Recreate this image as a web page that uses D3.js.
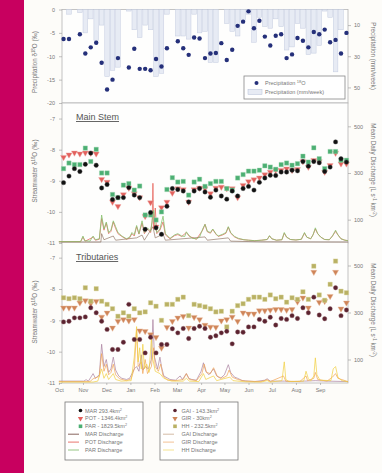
<!DOCTYPE html>
<html>
<head>
<meta charset="utf-8">
<script src="https://cdn.jsdelivr.net/npm/d3@7"></script>
<style>
  body { margin: 0; background: #fdfcf9; }
  svg { display: block; font-family: "Liberation Sans", Arial, sans-serif; }
  .tick text { fill: #777; font-size: 5.5px; }
  .tick line { stroke: #999; stroke-width: 0.6; }
  .domain { display: none; }
</style>
</head>
<body>
<svg id="chart" width="382" height="473"></svg>
<script>
// ---- data (weekly samples, first one ~7 Oct 2011) ----
const monthLabels = ["Oct", "Nov", "Dec", "Jan", "Feb", "Mar", "Apr", "May", "Jun", "Jul", "Aug", "Sep"];

const precipD18O = [-6.3, -6.3, null, -5.3, -9.4, -8.1, -7.1, -11.4, -17.1, -15.0, -10.4, null, -12.4, -8.4,
  -12.7, -12.7, -13.0, -10.6, -12.2, -8.3, null, -6.8, -8.3, -9.7, -6.0, -6.2, -10.4, -9.4, -9.3, -7.2,
  -10.8, -8.6, -3.5, -2.6, -0.4, -4.0, -2.4, -5.8, -7.7, -5.6, -5.3, -10.4, -9.6, -6.1, -6.7, -8.1,
  -4.8, -5.3, -4.3, -7.0, -6.5, -9.4, -5.0];
const precipMm = [0, 3, 0, 2, 15, 6, 20, 10, 43, 39, 37, 0, 1, 13, 18, 10, 13, 43, 41, 3, 0, 17, 17, 19, 3,
  15, 14, 34, 34, 0, 9, 14, 17, 7, 3, 21, 5, 11, 12, 6, 11, 26, 24, 9, 12, 29, 28, 23, 1, 5, 40, 13, 0];

const marD18O = [-9.06, -8.85, -8.61, -8.70, -8.47, -8.11, -8.50, -9.23, -9.12, -9.60, -9.54, -9.54, -9.22,
  -9.46, -9.54, -10.56, -10.02, -10.51, -10.72, -9.82, -9.25, -9.28, -9.33, -9.68, -9.33, -9.25, -9.36,
  -9.53, -9.30, -9.49, -9.59, -9.33, -9.49, -9.25, -9.18, -9.30, -9.05, -8.91, -8.82, -8.83, -8.72,
  -8.72, -8.66, -8.68, -8.38, -8.53, -8.38, -8.42, -8.70, -8.56, -7.75, -8.29, -8.40];
const potD18O = [-8.24, -8.16, -8.10, -8.13, -8.10, -8.11, -8.13, -8.95, -9.04, -9.68, -9.82, -9.44, -9.23,
  -9.41, -9.54, -10.14, -9.70, -10.48, -9.86, -9.68, -9.39, -9.25, -9.28, -9.68, -9.28, -9.23, -9.25,
  -9.41, -9.23, -9.20, -9.25, -9.25, -9.54, -9.14, -9.02, -8.96, -8.90, -8.80, -8.72, -8.66, -8.66,
  -8.61, -8.66, -8.63, -8.38, -8.56, -8.34, -8.38, -8.72, -8.50, -8.11, -8.45, -8.45];
const parD18O = [-8.61, -8.43, -8.48, -8.48, -7.95, -8.38, -7.99, -8.75, -8.75, -9.44, -9.54, -9.14, -9.09,
  -9.30, -9.17, -10.10, -10.10, -10.26, -10.00, -9.28, -8.90, -9.04, -9.02, -9.46, -9.04, -8.95, -9.18,
  -9.09, -9.02, -9.02, -9.25, -9.30, -8.91, -8.80, -8.69, -8.69, -8.66, -8.52, -8.56, -8.63, -8.48,
  -8.43, -8.50, -8.45, -8.21, -8.40, -7.94, -8.29, -8.61, -8.06, -8.06, -8.34, -8.34];

const gaiD18O = [-9.05, -9.03, -8.92, -8.92, -8.89, -8.60, -8.76, -9.03, -9.29, -9.93, -9.93, -9.70, -8.49,
  -9.61, -9.61, -10.04, -9.54, -10.04, -9.77, -9.77, -9.27, -9.40, -9.26, -9.58, -9.26, -9.19, -9.26,
  -9.54, -9.49, -9.40, -9.35, -9.75, -9.37, -9.38, -9.21, -9.21, -8.97, -9.03, -8.90, -9.15, -8.94,
  -8.97, -8.85, -8.94, -8.60, -8.76, -8.26, -8.83, -8.95, -8.63, -7.96, -8.85, -8.67];
const girD18O = [-8.60, -8.60, -8.60, -8.44, -8.37, -8.46, -8.39, -8.89, -8.76, -9.24, -9.03, -8.97, -9.01,
  -8.97, -9.33, -9.35, -9.45, -9.54, -9.88, -9.22, -9.03, -8.92, -8.87, -9.24, -8.90, -8.97, -9.15,
  -9.21, -9.22, -9.01, -8.97, -8.89, -9.03, -8.76, -8.79, -8.79, -8.69, -8.69, -8.67, -8.65, -8.65,
  -8.67, -8.65, -8.41, -8.28, -8.60, -7.46, -8.42, -8.39, -8.23, -7.46, -8.63, -8.44];
const hhD18O = [-8.28, -8.31, -8.28, -8.31, -7.96, -8.39, -7.99, -8.39, -8.49, -8.63, -8.87, -8.76, -8.87,
  -8.63, -8.76, -8.73, -8.44, -8.55, -9.00, -8.49, -8.49, -8.33, -8.26, -8.85, -8.49, -8.53, -8.57,
  -8.63, -8.73, -8.71, -9.21, -8.71, -8.53, -8.47, -8.33, -8.26, -8.26, -8.33, -8.19, -8.31, -8.26,
  -8.42, -8.28, -8.33, -8.09, -8.33, -7.27, -8.19, -8.36, -7.85, -7.11, -8.07, -8.12];

// mean daily discharge (L s-1 km-2): [days after 1 Oct 2011, value]
const marQ = [[0, 4], [54, 4], [55, 40], [58, 14], [70, 30], [73, 12], [100, 22], [107, 34], [110, 12],
  [121, 70], [124, 22], [134, 38], [137, 12], [188, 26], [191, 12], [218, 22], [221, 8], [260, 5], [372, 4]];
const potQ = [[0, 6], [28, 6], [31, 25], [34, 8], [44, 25], [47, 12], [52, 16], [55, 105], [58, 55],
  [61, 85], [64, 40], [67, 50], [70, 90], [73, 62], [76, 40], [81, 28], [87, 16], [91, 22], [94, 40],
  [97, 30], [100, 70], [103, 38], [107, 85], [110, 40], [114, 60], [118, 45], [120, 90], [121, 256],
  [122, 60], [124, 150], [126, 40], [130, 55], [134, 90], [137, 35], [143, 18], [149, 32], [153, 36],
  [158, 28], [164, 45], [168, 28], [177, 16], [185, 55], [188, 80], [191, 48], [195, 42], [198, 58],
  [202, 38], [205, 28], [211, 35], [215, 42], [218, 68], [221, 42], [226, 26], [231, 18], [238, 14],
  [244, 12], [252, 10], [261, 12], [268, 15], [271, 30], [274, 18], [280, 12], [287, 14], [290, 42],
  [293, 25], [298, 15], [305, 13], [312, 16], [316, 42], [319, 25], [324, 18], [327, 35], [330, 60],
  [333, 40], [337, 25], [342, 15], [348, 14], [352, 30], [356, 50], [359, 35], [363, 18], [368, 12],
  [372, 10]];
const parQ = [[0, 6], [28, 6], [31, 30], [33, 10], [40, 8], [44, 30], [47, 14], [52, 18], [55, 120],
  [58, 60], [61, 90], [64, 45], [67, 55], [70, 95], [73, 70], [76, 45], [81, 30], [87, 18], [91, 25],
  [94, 45], [97, 35], [100, 75], [103, 40], [107, 95], [110, 45], [114, 65], [118, 50], [120, 95],
  [122, 140], [124, 70], [126, 45], [130, 60], [134, 115], [137, 40], [143, 20], [149, 35], [153, 40],
  [158, 30], [162, 28], [164, 48], [168, 30], [172, 20], [177, 18], [181, 25], [185, 60], [188, 80],
  [191, 50], [195, 45], [198, 60], [202, 40], [205, 30], [211, 38], [215, 45], [218, 70], [221, 45],
  [226, 28], [231, 20], [238, 14], [244, 12], [252, 10], [261, 12], [268, 15], [271, 32], [274, 18],
  [280, 12], [287, 14], [290, 45], [293, 25], [298, 15], [305, 13], [312, 16], [316, 45], [319, 25],
  [324, 18], [327, 35], [330, 65], [333, 40], [337, 25], [342, 15], [348, 14], [352, 30], [356, 55],
  [359, 35], [363, 18], [368, 12], [372, 10]];

const gaiQ = [[0, 8], [32, 8], [35, 14], [38, 8], [44, 40], [47, 20], [52, 35], [55, 165], [58, 70],
  [61, 100], [64, 45], [67, 60], [70, 110], [73, 55], [77, 30], [81, 20], [87, 15], [91, 20], [94, 40],
  [97, 60], [100, 70], [103, 50], [106, 120], [108, 55], [111, 70], [115, 60], [119, 100], [121, 270],
  [123, 110], [127, 60], [130, 110], [132, 70], [135, 30], [143, 15], [150, 12], [156, 30], [159, 15],
  [164, 40], [167, 20], [171, 15], [177, 12], [183, 50], [186, 86], [189, 50], [193, 35], [199, 60],
  [203, 30], [208, 20], [213, 35], [218, 78], [221, 45], [226, 25], [230, 20], [236, 10], [244, 8],
  [252, 6], [265, 12], [268, 18], [272, 8], [290, 8], [300, 6], [316, 8], [330, 10], [345, 8], [372, 6]];
const girQ = [[0, 6], [40, 6], [44, 18], [52, 28], [55, 125], [58, 50], [61, 80], [64, 35], [67, 45],
  [70, 80], [73, 35], [78, 18], [87, 10], [93, 18], [97, 60], [100, 225], [102, 70], [106, 90], [108, 40],
  [111, 100], [114, 40], [119, 70], [122, 150], [124, 70], [128, 50], [131, 80], [134, 30], [140, 12],
  [150, 10], [160, 15], [164, 40], [168, 15], [177, 10], [184, 40], [187, 80], [190, 45], [195, 40],
  [199, 65], [204, 28], [210, 20], [216, 30], [219, 55], [223, 25], [230, 15], [240, 8], [260, 6],
  [268, 14], [272, 6], [289, 30], [292, 8], [310, 6], [318, 30], [320, 10], [328, 20], [330, 45],
  [333, 15], [345, 8], [352, 25], [356, 40], [359, 20], [372, 6]];
const hhQ = [[0, 4], [44, 4], [50, 8], [55, 60], [58, 20], [61, 40], [64, 15], [70, 40], [73, 15], [80, 8],
  [93, 10], [97, 110], [100, 240], [102, 90], [104, 150], [106, 60], [108, 165], [110, 60], [113, 80],
  [116, 45], [119, 190], [121, 100], [124, 50], [130, 40], [135, 20], [145, 8], [160, 8], [164, 20],
  [168, 8], [180, 6], [186, 40], [189, 15], [199, 30], [203, 10], [220, 25], [224, 10], [240, 5],
  [260, 4], [268, 10], [272, 4], [287, 10], [290, 90], [292, 15], [296, 6], [315, 8], [318, 50],
  [321, 18], [324, 8], [328, 30], [330, 107], [332, 35], [336, 12], [350, 10], [353, 60], [356, 70],
  [359, 25], [364, 10], [372, 5]];

// ---- layout ----
const svg = d3.select("#chart");
const L = 62, R = 348;
const firstSample = new Date(2011, 9, 7);
const oct1 = new Date(2011, 9, 1);
const sampleDates = d3.range(precipD18O.length).map((i) => d3.timeDay.offset(firstSample, 7 * i));
const toDate = (day) => d3.timeDay.offset(oct1, day);
const plain = (d) => String(d); // hyphen minus, no decimals

const x = d3.scaleTime().domain([new Date(2011, 9, 5), new Date(2012, 9, 7)]).range([L, R]);

svg.append("rect").attr("width", 382).attr("height", 473).attr("fill", "#fdfcf9");
svg.append("rect").attr("width", 24).attr("height", 473).attr("fill", "#c8005f");

const panels = [
  { top: 9.5, bottom: 103 },
  { top: 103, bottom: 243 },
  { top: 242, bottom: 383 },
];
panels.forEach((p) => {
  svg.append("rect")
    .attr("x", L).attr("y", p.top)
    .attr("width", R - L).attr("height", p.bottom - p.top)
    .attr("fill", "#fefefd").attr("stroke", "#b5b5b5").attr("stroke-width", 0.8);
});

// ---- precipitation panel ----
const yPrec = d3.scaleLinear().domain([-20, 0]).range([103, 9.5]);
const yMm = d3.scaleLinear().domain([0, 60]).range([9.5, 103]);

svg.append("g")
  .selectAll("rect")
  .data(precipMm)
  .join("rect")
  .attr("x", (d, i) => x(sampleDates[i]) - 2.3)
  .attr("y", yMm(0))
  .attr("width", 4.6)
  .attr("height", (d) => yMm(d) - yMm(0))
  .attr("fill", "#e7ebf4")
  .attr("stroke", "#c3cbe0")
  .attr("stroke-width", 0.5);

svg.append("g")
  .selectAll("circle")
  .data(precipD18O.map((v, i) => ({ v, date: sampleDates[i] })).filter((d) => d.v !== null))
  .join("circle")
  .attr("cx", (d) => x(d.date))
  .attr("cy", (d) => yPrec(d.v))
  .attr("r", 2.2)
  .attr("fill", "#25307a");

svg.append("g").attr("transform", `translate(${L},0)`)
  .call(d3.axisLeft(yPrec).tickValues([0, -5, -10, -15, -20]).tickFormat(plain).tickSize(3).tickPadding(4));
svg.append("g").attr("transform", `translate(${R},0)`)
  .call(d3.axisRight(yMm).tickValues([10, 30, 50]).tickFormat(plain).tickSize(3).tickPadding(3));

// ---- stream panels ----
const yMain = d3.scaleLinear().domain([-11, -6.5]).range([243, 103]);
const qMain = d3.scaleLinear().domain([0, 600]).range([243, 103]);
const yTrib = d3.scaleLinear().domain([-11, -6.5]).range([383, 242]);
const qTrib = d3.scaleLinear().domain([0, 600]).range([383, 242]);

const drawQ = (data, q, color, opacity) => {
  svg.append("path")
    .datum(data)
    .attr("fill", "none")
    .attr("stroke", color)
    .attr("stroke-width", 0.8)
    .attr("stroke-opacity", opacity)
    .attr("stroke-linejoin", "round")
    .attr("d", d3.line().x((d) => x(toDate(d[0]))).y((d) => q(d[1])));
};

const triangle = d3.symbol().type(d3.symbolTriangle).size(16);
const square = d3.symbol().type(d3.symbolSquare).size(19);
const legendTriangle = d3.symbol().type(d3.symbolTriangle).size(12);
const legendSquare = d3.symbol().type(d3.symbolSquare).size(13);

const drawPoints = (values, y, shape, fill, stroke) => {
  const g = svg.append("g");
  const pts = values.map((v, i) => ({ v, date: sampleDates[i] }));
  if (shape === "circle") {
    g.selectAll("circle").data(pts).join("circle")
      .attr("cx", (d) => x(d.date)).attr("cy", (d) => y(d.v))
      .attr("r", 2.2).attr("fill", fill).attr("stroke", stroke).attr("stroke-width", 0.4);
  } else {
    g.selectAll("path").data(pts).join("path")
      .attr("d", shape === "triangle" ? triangle : square)
      .attr("transform", (d) => `translate(${x(d.date)},${y(d.v)})` + (shape === "triangle" ? " rotate(180)" : ""))
      .attr("fill", fill).attr("stroke", stroke).attr("stroke-width", 0.4);
  }
};

// main stem
drawQ(marQ, qMain, "#8a6b5a", 0.8);
drawQ(potQ, qMain, "#e4534a", 0.85);
drawQ(parQ, qMain, "#88c16e", 1);
drawPoints(potD18O, yMain, "triangle", "#e2615d", "#f1a9a3");
drawPoints(parD18O, yMain, "square", "#4caf73", "#9dd6ae");
drawPoints(marD18O, yMain, "circle", "#111", "#444");

// tributaries
drawQ(gaiQ, qTrib, "#a77d9c", 0.85);
drawQ(girQ, qTrib, "#f0a04e", 0.85);
drawQ(hhQ, qTrib, "#f1d043", 0.9);
drawPoints(girD18O, yTrib, "triangle", "#cf8559", "#e9b99a");
drawPoints(hhD18O, yTrib, "square", "#b9b164", "#dcd7a0");
drawPoints(gaiD18O, yTrib, "circle", "#5b2330", "#8c5a62");

[[yMain, qMain], [yTrib, qTrib]].forEach(([y, q]) => {
  svg.append("g").attr("transform", `translate(${L},0)`)
    .call(d3.axisLeft(y).tickValues([-7, -8, -9, -10, -11]).tickFormat(plain).tickSize(3).tickPadding(4));
  svg.append("g").attr("transform", `translate(${R},0)`)
    .call(d3.axisRight(q).tickValues([100, 300, 500]).tickFormat(plain).tickSize(3).tickPadding(3));
});

svg.append("g").attr("transform", "translate(0,383)")
  .call(d3.axisBottom(x)
    .tickValues(d3.timeMonth.range(oct1, new Date(2012, 9, 1)))
    .tickFormat((d, i) => monthLabels[i])
    .tickSize(2).tickPadding(3));

// ---- titles ----
const label = (text, tx, ty, size, rotate) => {
  const t = svg.append("text")
    .attr("transform", `translate(${tx},${ty}) rotate(${rotate})`)
    .attr("text-anchor", "middle")
    .attr("fill", "#777")
    .style("font-size", size + "px");
  text.forEach(([s, sup]) => t.append("tspan").text(s)
    .attr("baseline-shift", sup ? "super" : null)
    .style("font-size", sup ? size * 0.7 + "px" : null));
};
label([["Precipitation δ"], ["18", true], ["O (‰)"]], 37, 62, 6.3, -90);
label([["Streamwater δ"], ["18", true], ["O (‰)"]], 37, 171, 6.3, -90);
label([["Streamwater δ"], ["18", true], ["O (‰)"]], 37, 312, 6.3, -90);
label([["Precipitation (mm/week)"]], 371, 56, 6.3, 90);
label([["Mean Daily Discharge (L s"], ["-1", true], [" km"], ["-2", true], [")"]], 371, 170, 6.3, 90);
label([["Mean Daily Discharge (L s"], ["-1", true], [" km"], ["-2", true], [")"]], 371, 310, 6.3, 90);

svg.append("text").attr("x", 76).attr("y", 120).text("Main Stem")
  .attr("fill", "#555").style("font-size", "9px").style("text-decoration", "underline");
svg.append("text").attr("x", 76).attr("y", 260).text("Tributaries")
  .attr("fill", "#555").style("font-size", "9px").style("text-decoration", "underline");

// ---- legends ----
const legendTop = svg.append("g");
legendTop.append("rect").attr("x", 244).attr("y", 76).attr("width", 101).attr("height", 23)
  .attr("fill", "#fff").attr("stroke", "#888").attr("stroke-width", 0.8);
legendTop.append("circle").attr("cx", 256.5).attr("cy", 83).attr("r", 2).attr("fill", "#25307a");
legendTop.append("rect").attr("x", 248).attr("y", 89.5).attr("width", 14).attr("height", 5)
  .attr("fill", "#e7ebf4").attr("stroke", "#b5c0d8").attr("stroke-width", 0.5);
const lt1 = legendTop.append("text").attr("x", 265).attr("y", 85).attr("fill", "#777").style("font-size", "5.5px");
lt1.append("tspan").text("Precipitation ");
lt1.append("tspan").text("18").attr("baseline-shift", "super").style("font-size", "4px");
lt1.append("tspan").text("O");
legendTop.append("text").attr("x", 265).attr("y", 94).attr("fill", "#777").style("font-size", "5.5px")
  .text("Precipitation (mm/week)");

const legendMain = [
  ["MAR 293.4km", "circle", "#111", "#6b3f35"],
  ["POT - 1346.4km", "triangle", "#e2615d", "#e4534a"],
  ["PAR - 1829.5km", "square", "#4caf73", "#7cb866"],
];
const legendTrib = [
  ["GAI - 143.3km", "circle", "#5b2330", "#c9a98e"],
  ["GIR - 30km", "triangle", "#cf8559", "#f0b27a"],
  ["HH - 232.5km", "square", "#b9b164", "#f3dc74"],
];
const names = [["MAR", "POT", "PAR"], ["GAI", "GIR", "HH"]];

[[legendMain, 65, 80.5, 85], [legendTrib, 160, 175, 181.5]].forEach(([items, bx, mx, tx], k) => {
  const g = svg.append("g");
  g.append("rect").attr("x", bx).attr("y", 402).attr("width", 78).attr("height", 58)
    .attr("fill", "#fff").attr("stroke", "#777").attr("stroke-width", 0.8);
  items.forEach(([txt, shape, fill], i) => {
    const cy = 410.5 + i * 7.9;
    if (shape === "circle") g.append("circle").attr("cx", mx).attr("cy", cy).attr("r", 1.8).attr("fill", fill);
    else g.append("path").attr("d", shape === "triangle" ? legendTriangle() : legendSquare())
      .attr("transform", `translate(${mx},${cy})` + (shape === "triangle" ? " rotate(180)" : ""))
      .attr("fill", fill);
    const t = g.append("text").attr("x", tx).attr("y", cy + 2).attr("fill", "#777").style("font-size", "5.5px");
    t.append("tspan").text(txt);
    t.append("tspan").text("2").attr("baseline-shift", "super").style("font-size", "3.8px");
  });
  items.forEach(([, , , line], i) => {
    const cy = 434.2 + i * 7.9;
    g.append("line").attr("x1", bx + 3).attr("x2", bx + 14).attr("y1", cy).attr("y2", cy)
      .attr("stroke", line).attr("stroke-width", 0.8);
    g.append("text").attr("x", tx).attr("y", cy + 2).attr("fill", "#777").style("font-size", "5.5px")
      .text(names[k][i] + " Discharge");
  });
});
</script>
</body>
</html>
